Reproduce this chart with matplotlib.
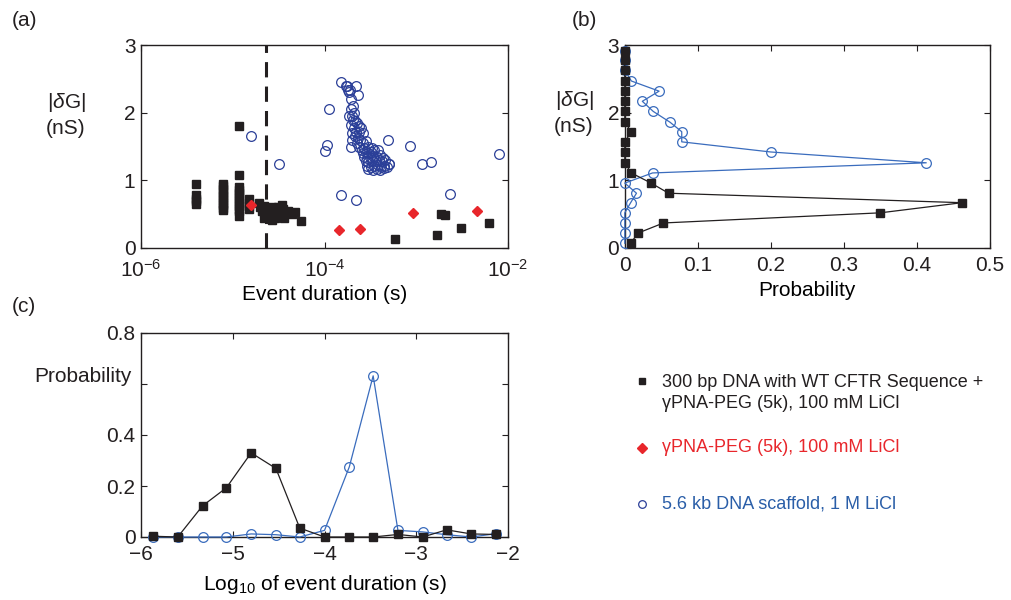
import matplotlib
matplotlib.use("Agg")
from matplotlib import pyplot as plt
from matplotlib.ticker import FixedLocator, NullLocator, LogFormatterSciNotation

# ---- (a) scatter: event duration (s) vs |dG| (nS)
sq_x = [4.0e-6, 4.0e-6, 4.0e-6, 4.0e-6, 4.0e-6,
        7.9e-6, 7.9e-6, 7.9e-6, 7.9e-6, 7.9e-6, 7.9e-6, 7.9e-6, 7.9e-6, 7.9e-6, 7.9e-6, 7.9e-6,
        1.17e-5, 1.17e-5, 1.17e-5, 1.17e-5, 1.17e-5, 1.17e-5, 1.17e-5, 1.17e-5, 1.17e-5, 1.17e-5,
        1.17e-5, 1.17e-5, 1.17e-5,
        1.5e-5, 1.5e-5, 1.5e-5, 1.5e-5,
        1.95e-5, 2.0e-5, 2.1e-5, 2.2e-5, 2.3e-5, 2.4e-5, 2.5e-5, 2.6e-5, 2.7e-5, 2.8e-5, 2.9e-5,
        3.0e-5, 3.1e-5, 3.2e-5, 3.3e-5, 3.5e-5, 3.6e-5, 3.8e-5, 4.0e-5, 4.4e-5, 4.8e-5, 5.6e-5,
        2.2e-5, 2.7e-5, 3.4e-5,
        5.85e-4, 1.70e-3, 1.88e-3, 2.05e-3, 3.1e-3, 6.2e-3]
sq_y = [0.95, 0.78, 0.73, 0.69, 0.65,
        0.95, 0.91, 0.87, 0.83, 0.79, 0.75, 0.71, 0.67, 0.63, 0.59, 0.56,
        1.80, 1.08, 0.90, 0.86, 0.82, 0.78, 0.74, 0.70, 0.66, 0.62, 0.58, 0.54, 0.48,
        0.72, 0.67, 0.62, 0.57,
        0.66, 0.60, 0.55, 0.62, 0.52, 0.58, 0.47, 0.55, 0.60, 0.50, 0.45,
        0.55, 0.60, 0.48, 0.53, 0.57, 0.45, 0.52, 0.55, 0.50, 0.53, 0.40,
        0.45, 0.42, 0.63,
        0.13, 0.19, 0.51, 0.49, 0.30, 0.37]

dia_x = [1.58e-5, 1.43e-4, 2.46e-4, 9.3e-4, 4.6e-3]
dia_y = [0.63, 0.27, 0.285, 0.52, 0.55]

circ_x = [1.59e-5, 3.2e-5, 1.0e-4, 1.07e-4, 1.11e-4, 1.5e-4, 1.51e-4, 2.19e-4, 2.2e-4, 2.3e-4,
          1.7e-4, 1.8e-4, 4.86e-4, 8.45e-4, 1.16e-3, 1.43e-3, 2.36e-3, 7.98e-3,
          1.75e-4, 1.9e-4, 1.85e-4, 1.95e-4, 2.05e-4, 1.95e-4, 2.1e-4, 2.0e-4, 1.85e-4, 2.05e-4,
          2.15e-4, 2.25e-4, 1.95e-4, 2.1e-4, 2.35e-4, 2.5e-4, 2.2e-4, 2.0e-4, 2.4e-4, 2.6e-4,
          2.15e-4, 2.3e-4, 2.0e-4, 2.45e-4, 2.25e-4, 1.95e-4, 2.6e-4, 2.8e-4, 2.4e-4, 2.55e-4,
          2.7e-4, 3.0e-4, 3.3e-4,
          2.6e-4, 2.8e-4, 3.0e-4, 3.2e-4, 3.5e-4, 3.8e-4,
          2.7e-4, 2.9e-4, 3.1e-4, 3.4e-4, 3.7e-4, 4.0e-4, 4.3e-4,
          2.8e-4, 3.0e-4, 3.3e-4, 3.6e-4, 3.9e-4, 4.2e-4, 4.6e-4,
          2.9e-4, 3.2e-4, 3.5e-4, 3.8e-4, 4.1e-4, 4.5e-4, 5.0e-4,
          3.0e-4, 3.4e-4, 3.7e-4, 4.0e-4, 4.4e-4, 4.8e-4, 5.1e-4]
circ_y = [1.65, 1.245, 1.44, 1.52, 2.06, 2.46, 0.78, 0.71, 2.39, 2.27,
          2.39, 2.33, 1.60, 1.515, 1.24, 1.27, 0.80, 1.39,
          2.40, 2.33, 2.30, 2.20, 2.10, 2.05, 2.00, 1.95, 1.95, 1.90,
          1.88, 1.85, 1.82, 1.78, 1.80, 1.78, 1.72, 1.70, 1.72, 1.70,
          1.65, 1.62, 1.60, 1.60, 1.55, 1.50, 1.55, 1.58, 1.50, 1.45,
          1.48, 1.50, 1.48,
          1.40, 1.42, 1.40, 1.42, 1.45, 1.45,
          1.35, 1.33, 1.35, 1.36, 1.35, 1.38, 1.33,
          1.28, 1.27, 1.30, 1.28, 1.30, 1.28, 1.30,
          1.22, 1.20, 1.22, 1.23, 1.20, 1.22, 1.24,
          1.17, 1.15, 1.17, 1.16, 1.18, 1.20, 1.24]

cutoff = 2.3e-5

# ---- (b) histogram of |dG|
dg_bins = [0.07, 0.22, 0.37, 0.52, 0.67, 0.81, 0.96, 1.11, 1.26, 1.42,
           1.57, 1.72, 1.86, 2.02, 2.17, 2.32, 2.47, 2.63, 2.78, 2.92]
p_dna = [0.008, 0.018, 0.053, 0.35, 0.462, 0.06, 0.036, 0.009, 0, 0,
         0, 0.009, 0, 0, 0, 0, 0, 0, 0, 0]
p_scaf = [0, 0, 0, 0, 0.008, 0.016, 0, 0.038, 0.413, 0.20,
          0.078, 0.078, 0.062, 0.039, 0.024, 0.047, 0.009, 0, 0, 0]

# ---- (c) histogram of log10 duration
logt = [-5.87, -5.6, -5.33, -5.07, -4.8, -4.53, -4.27, -4.0,
        -3.73, -3.47, -3.2, -2.93, -2.67, -2.4, -2.13]
pt_dna = [0.003, 0.0, 0.122, 0.193, 0.33, 0.269, 0.035, 0.0,
          0.0, 0.0, 0.01, 0.0, 0.028, 0.012, 0.01]
pt_scaf = [0, 0, 0, 0, 0.012, 0.009, 0, 0.026,
           0.275, 0.632, 0.026, 0.02, 0.009, 0, 0.013]

labels = ["300 bp DNA with WT CFTR Sequence +\n\u03b3PNA-PEG (5k), 100 mM LiCl",
          "\u03b3PNA-PEG (5k), 100 mM LiCl",
          "5.6 kb DNA scaffold, 1 M LiCl"]

BLK = "#231f20"
RED = "#e8262b"
NAVY = "#2b3f98"
BLUE = "#3a6cbd"
TXTBLUE = "#2a5ea8"

plt.rcParams["font.family"] = ["Liberation Sans", "DejaVu Sans"]
plt.rcParams["mathtext.fontset"] = "custom"
plt.rcParams["mathtext.rm"] = "Liberation Sans"
plt.rcParams["mathtext.it"] = "Liberation Sans:italic"
plt.rcParams["font.size"] = 15
plt.rcParams["axes.linewidth"] = 1.0
plt.rcParams["text.color"] = BLK


def style(ax, xpad=6):
    ax.tick_params(direction="in", top=True, right=True, length=4, width=0.8,
                   labelsize=15, colors=BLK)
    ax.tick_params(axis="x", pad=xpad)
    ax.tick_params(axis="y", pad=4)
    for s in ax.spines.values():
        s.set_color(BLK)


fig = plt.figure(figsize=(10.11, 6), dpi=100)

# (a)
ax1 = fig.add_axes([0.1395, 0.5867, 0.363, 0.338])
ax1.plot(circ_x, circ_y, "o", mfc="none", mec=NAVY, ms=7, mew=0.9)
ax1.plot(sq_x, sq_y, "s", color=BLK, ms=5.4)
ax1.plot(dia_x, dia_y, "D", color=RED, ms=5.5)
ax1.axvline(cutoff, color=BLK, ls=(0, (5, 3)), lw=2.2)
ax1.set_xscale("log")
ax1.set_xlim(1e-6, 1e-2)
ax1.set_ylim(0, 3)
ax1.xaxis.set_major_locator(FixedLocator([1e-6, 1e-4, 1e-2]))
ax1.xaxis.set_major_formatter(LogFormatterSciNotation())
ax1.xaxis.set_minor_locator(NullLocator())
ax1.set_yticks([0, 1, 2, 3])
ax1.set_xlabel("Event duration (s)", labelpad=3)
style(ax1, xpad=8)
fig.text(66 / 1011, 1 - 102 / 600, "|$\\delta$G|", ha="center", va="center", fontsize=15)
fig.text(66 / 1011, 1 - 128 / 600, "(nS)", ha="center", va="center", fontsize=15)

# (b)
ax2 = fig.add_axes([0.618, 0.5867, 0.361, 0.338])
ax2.plot(p_scaf, dg_bins, "-o", color=BLUE, mfc="none", mec=BLUE, ms=7, mew=0.9,
         lw=0.9, clip_on=False, zorder=3)
ax2.plot(p_dna, dg_bins, "-s", color=BLK, ms=5.4, lw=0.9, clip_on=False, zorder=4)
ax2.set_xlim(0, 0.5)
ax2.set_ylim(0, 3)
ax2.set_xticks([0, 0.1, 0.2, 0.3, 0.4, 0.5])
ax2.set_xticklabels(["0", "0.1", "0.2", "0.3", "0.4", "0.5"])
ax2.set_yticks([0, 1, 2, 3])
ax2.set_xlabel("Probability", labelpad=4)
style(ax2)
fig.text(574 / 1011, 1 - 100 / 600, "|$\\delta$G|", ha="center", va="center", fontsize=15)
fig.text(574 / 1011, 1 - 126 / 600, "(nS)", ha="center", va="center", fontsize=15)

# (c)
ax3 = fig.add_axes([0.1395, 0.105, 0.363, 0.34])
ax3.plot(logt, pt_dna, "-s", color=BLK, ms=5.4, lw=0.9, clip_on=False, zorder=4)
ax3.plot(logt, pt_scaf, "-o", color=BLUE, mfc="none", mec=BLUE, ms=7, mew=0.9,
         lw=0.9, clip_on=False, zorder=3)
ax3.set_xlim(-6, -2)
ax3.set_ylim(0, 0.8)
ax3.set_xticks([-6, -5, -4, -3, -2])
ax3.set_yticks([0, 0.2, 0.4, 0.6, 0.8])
ax3.set_yticklabels(["0", "0.2", "0.4", "", "0.8"])
ax3.set_xlabel("Log$_{10}$ of event duration (s)", labelpad=6)
style(ax3)
fig.text(132 / 1011, 1 - 376 / 600, "Probability", ha="right", va="center", fontsize=15)

# panel letters
fig.text(12 / 1011, 1 - 20 / 600, "(a)", ha="left", va="center", fontsize=15)
fig.text(572 / 1011, 1 - 20 / 600, "(b)", ha="left", va="center", fontsize=15)
fig.text(12 / 1011, 1 - 306 / 600, "(c)", ha="left", va="center", fontsize=15)

# legend
lax = fig.add_axes([0, 0, 1, 1])
lax.set_xlim(0, 1011)
lax.set_ylim(600, 0)
lax.axis("off")
lax.plot([642], [381], "s", color=BLK, ms=5)
lax.plot([642], [448], "D", color=RED, ms=5)
lax.plot([642], [504], "o", mfc="none", mec=NAVY, ms=5.5, mew=0.9)
lax.text(662, 393, labels[0], color=BLK, fontsize=13, va="center", ha="left",
         linespacing=1.3)
lax.text(662, 448, labels[1], color=RED, fontsize=13, va="center", ha="left")
lax.text(662, 504, labels[2], color=TXTBLUE, fontsize=13, va="center", ha="left")

fig.savefig("out.png", dpi=100)
